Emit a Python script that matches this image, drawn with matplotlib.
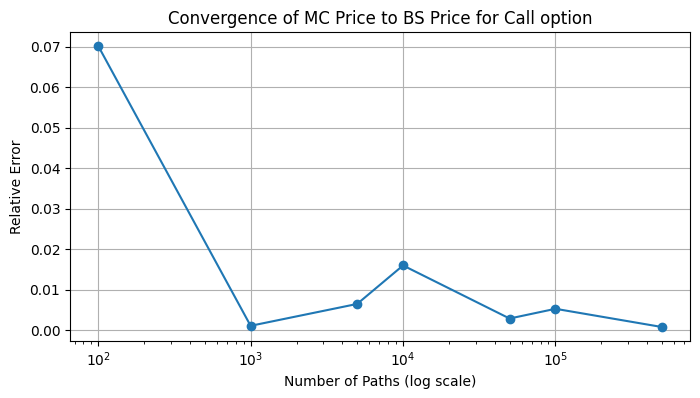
import matplotlib
matplotlib.use("Agg")
import matplotlib.pyplot as plt

# number of simulated paths and relative error of MC vs BS price
n_paths = [100, 1000, 5000, 10000, 50000, 100000, 500000]
rel_error = [0.0702, 0.0011, 0.0065, 0.0160, 0.0029, 0.0053, 0.0008]

fig, ax = plt.subplots(figsize=(7, 3.98), dpi=100)
ax.plot(n_paths, rel_error, marker='o')
ax.set_xscale('log')
ax.set_title('Convergence of MC Price to BS Price for Call option')
ax.set_xlabel('Number of Paths (log scale)')
ax.set_ylabel('Relative Error')
ax.grid(True)

fig.subplots_adjust(left=0.1, right=0.986, top=0.92, bottom=0.143)
plt.savefig('out.png')
